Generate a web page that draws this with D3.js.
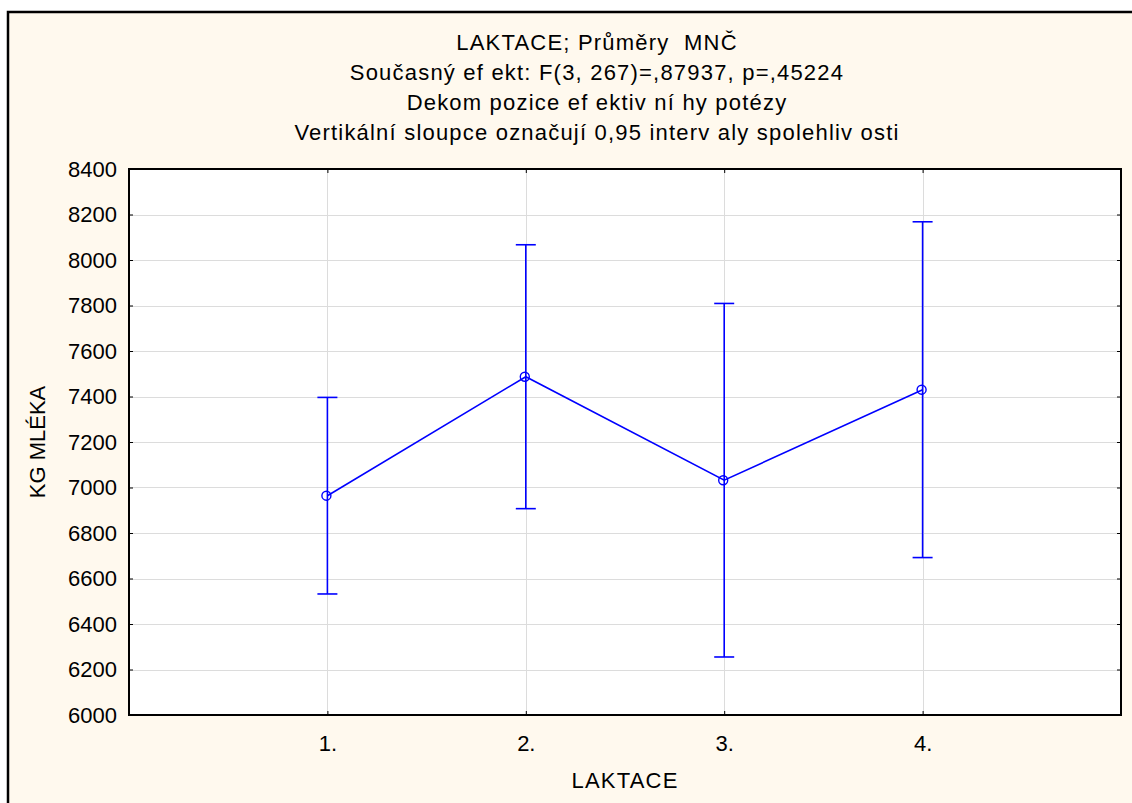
<!DOCTYPE html>
<html>
<head>
<meta charset="utf-8">
<script src="https://cdn.jsdelivr.net/npm/d3@7"></script>
<style>
  html, body { margin: 0; padding: 0; background: #ffffff; }
  svg { display: block; }
  text { font-family: "Liberation Sans", Arial, sans-serif; fill: #000; }
  .title { white-space: pre; }
</style>
</head>
<body>
<svg id="chart" width="1132" height="803"></svg>
<script>
// LAKTACE: least-squares means of milk yield with 0.95 confidence intervals
const categories = ["1.", "2.", "3.", "4."];
const means      = [6964, 7487, 7032, 7430];
const ciHalf     = [432, 580, 777, 738];
const yTicks     = [6000, 6200, 6400, 6600, 6800, 7000, 7200, 7400, 7600, 7800, 8000, 8200, 8400];
const titleLines = [
  "LAKTACE; Průměry  MNČ",
  "Současný ef ekt: F(3, 267)=,87937, p=,45224",
  "Dekom pozice ef ektiv ní hy potézy",
  "Vertikální sloupce označují 0,95 interv aly spolehliv osti"
];
const xTitle = "LAKTACE";
const yTitle = "KG MLÉKA";

const W = 1132, H = 803;
const plot = { left: 129, top: 169, right: 1121, bottom: 715 };
const FS = 22;

const svg = d3.select("#chart");

// outer panel
svg.append("rect")
  .attr("x", 8).attr("y", 12)
  .attr("width", W).attr("height", H)
  .attr("fill", "#fff9ee")
  .attr("stroke", "#000").attr("stroke-width", 2.5);

// plot background
svg.append("rect")
  .attr("x", plot.left).attr("y", plot.top)
  .attr("width", plot.right - plot.left).attr("height", plot.bottom - plot.top)
  .attr("fill", "#ffffff");

const x = d3.scaleLinear().domain([0, categories.length + 1]).range([plot.left, plot.right]);
const y = d3.scaleLinear().domain([6000, 8400]).range([plot.bottom, plot.top]);
const xPos = (d, i) => x(i + 1);

// grid lines
const grid = svg.append("g").attr("stroke", "#dcdcdc").attr("stroke-width", 1);
grid.selectAll("line.h").data(yTicks.slice(1, -1)).join("line")
  .attr("x1", plot.left).attr("x2", plot.right)
  .attr("y1", d => Math.round(y(d)) + 0.5).attr("y2", d => Math.round(y(d)) + 0.5);
grid.selectAll("line.v").data(categories).join("line")
  .attr("y1", plot.top).attr("y2", plot.bottom)
  .attr("x1", (d, i) => Math.round(xPos(d, i)) + 0.5).attr("x2", (d, i) => Math.round(xPos(d, i)) + 0.5);

// left axis with labels
const yAxis = d3.axisLeft(y).tickValues(yTicks).tickSize(-4).tickPadding(12).tickFormat(d3.format("d"));
const gy = svg.append("g").attr("transform", `translate(${plot.left},0)`).call(yAxis);
gy.select(".domain").remove();
gy.selectAll("line").attr("stroke", "#000");
gy.selectAll("text").attr("font-size", FS).attr("fill", "#000");

// right axis ticks
const gyr = svg.append("g").attr("transform", `translate(${plot.right},0)`)
  .call(d3.axisRight(y).tickValues(yTicks).tickSize(-4).tickFormat(""));
gyr.select(".domain").remove();
gyr.selectAll("line").attr("stroke", "#000");

// bottom axis
const xAxis = d3.axisBottom(x).tickValues(categories.map((d, i) => i + 1))
  .tickSize(-4).tickPadding(20).tickFormat((d) => categories[d - 1]);
const gx = svg.append("g").attr("transform", `translate(0,${plot.bottom})`).call(xAxis);
gx.select(".domain").remove();
gx.selectAll("line").attr("stroke", "#000");
gx.selectAll("text").attr("font-size", FS).attr("fill", "#000");

// top axis ticks
const gxt = svg.append("g").attr("transform", `translate(0,${plot.top})`)
  .call(d3.axisTop(x).tickValues(categories.map((d, i) => i + 1)).tickSize(-4).tickFormat(""));
gxt.select(".domain").remove();
gxt.selectAll("line").attr("stroke", "#000");

// plot frame
svg.append("rect")
  .attr("x", plot.left).attr("y", plot.top)
  .attr("width", plot.right - plot.left).attr("height", plot.bottom - plot.top)
  .attr("fill", "none").attr("stroke", "#000").attr("stroke-width", 2);

// error bars
const blue = "#0000ff";
const eb = svg.append("g").attr("stroke", blue).attr("stroke-width", 1.6).attr("fill", "none");
categories.forEach((c, i) => {
  const cx = xPos(c, i);
  const lo = y(means[i] - ciHalf[i]);
  const hi = y(means[i] + ciHalf[i]);
  eb.append("line").attr("x1", cx).attr("x2", cx).attr("y1", hi).attr("y2", lo);
  eb.append("line").attr("x1", cx - 10).attr("x2", cx + 10).attr("y1", hi).attr("y2", hi);
  eb.append("line").attr("x1", cx - 10).attr("x2", cx + 10).attr("y1", lo).attr("y2", lo);
});

// mean line
svg.append("path")
  .datum(means)
  .attr("d", d3.line().x((d, i) => xPos(d, i)).y(d => y(d)))
  .attr("fill", "none").attr("stroke", blue).attr("stroke-width", 1.6);

// mean markers
svg.append("g").selectAll("circle").data(means).join("circle")
  .attr("cx", (d, i) => xPos(d, i) - 1).attr("cy", d => y(d))
  .attr("r", 4.5)
  .attr("fill", "none").attr("stroke", blue).attr("stroke-width", 1.4);

// titles
const titleG = svg.append("g");
titleLines.forEach((t, i) => {
  titleG.append("text")
    .attr("class", "title")
    .attr("x", 597).attr("y", 50 + i * 30)
    .attr("text-anchor", "middle")
    .attr("font-size", FS)
    .attr("letter-spacing", 1.2)
    .text(t);
});

svg.append("text")
  .attr("x", 625).attr("y", 788)
  .attr("text-anchor", "middle").attr("font-size", FS)
  .attr("letter-spacing", 1.2)
  .text(xTitle);

svg.append("text")
  .attr("transform", `translate(45,${(plot.top + plot.bottom) / 2}) rotate(-90)`)
  .attr("text-anchor", "middle").attr("font-size", FS)
  .text(yTitle);
</script>
</body>
</html>
